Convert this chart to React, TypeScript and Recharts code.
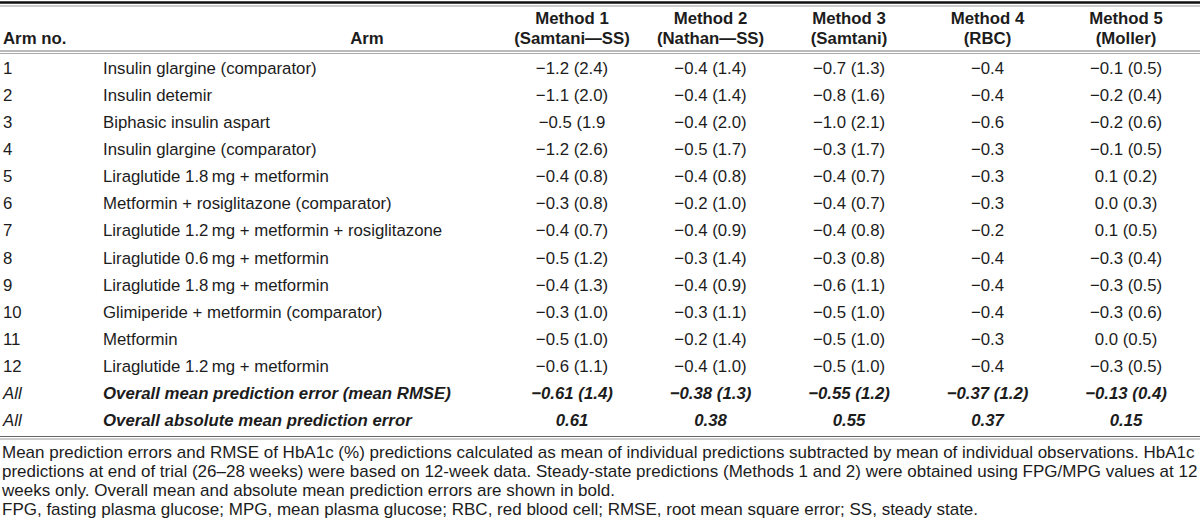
import { ScatterChart, Scatter, XAxis, YAxis, Customized } from 'recharts'

const armNos = ['1', '2', '3', '4', '5', '6', '7', '8', '9', '10', '11', '12', 'All', 'All']
const arms = [
  'Insulin glargine (comparator)',
  'Insulin detemir',
  'Biphasic insulin aspart',
  'Insulin glargine (comparator)',
  'Liraglutide 1.8\u2009mg + metformin',
  'Metformin + rosiglitazone (comparator)',
  'Liraglutide 1.2\u2009mg + metformin + rosiglitazone',
  'Liraglutide 0.6\u2009mg + metformin',
  'Liraglutide 1.8\u2009mg + metformin',
  'Glimiperide + metformin (comparator)',
  'Metformin',
  'Liraglutide 1.2\u2009mg + metformin',
  'Overall mean prediction error (mean RMSE)',
  'Overall absolute mean prediction error',
]
const methods = ['Method 1', 'Method 2', 'Method 3', 'Method 4', 'Method 5']
const methodSubs = ['(Samtani\u2014SS)', '(Nathan\u2014SS)', '(Samtani)', '(RBC)', '(Moller)']

const method1 = ['\u22121.2 (2.4)', '\u22121.1 (2.0)', '\u22120.5 (1.9', '\u22121.2 (2.6)', '\u22120.4 (0.8)', '\u22120.3 (0.8)', '\u22120.4 (0.7)', '\u22120.5 (1.2)', '\u22120.4 (1.3)', '\u22120.3 (1.0)', '\u22120.5 (1.0)', '\u22120.6 (1.1)', '\u22120.61 (1.4)', '0.61']
const method2 = ['\u22120.4 (1.4)', '\u22120.4 (1.4)', '\u22120.4 (2.0)', '\u22120.5 (1.7)', '\u22120.4 (0.8)', '\u22120.2 (1.0)', '\u22120.4 (0.9)', '\u22120.3 (1.4)', '\u22120.4 (0.9)', '\u22120.3 (1.1)', '\u22120.2 (1.4)', '\u22120.4 (1.0)', '\u22120.38 (1.3)', '0.38']
const method3 = ['\u22120.7 (1.3)', '\u22120.8 (1.6)', '\u22121.0 (2.1)', '\u22120.3 (1.7)', '\u22120.4 (0.7)', '\u22120.4 (0.7)', '\u22120.4 (0.8)', '\u22120.3 (0.8)', '\u22120.6 (1.1)', '\u22120.5 (1.0)', '\u22120.5 (1.0)', '\u22120.5 (1.0)', '\u22120.55 (1.2)', '0.55']
const method4 = ['\u22120.4', '\u22120.4', '\u22120.6', '\u22120.3', '\u22120.3', '\u22120.3', '\u22120.2', '\u22120.4', '\u22120.4', '\u22120.4', '\u22120.3', '\u22120.4', '\u22120.37 (1.2)', '0.37']
const method5 = ['\u22120.1 (0.5)', '\u22120.2 (0.4)', '\u22120.2 (0.6)', '\u22120.1 (0.5)', '0.1 (0.2)', '0.0 (0.3)', '0.1 (0.5)', '\u22120.3 (0.4)', '\u22120.3 (0.5)', '\u22120.3 (0.6)', '0.0 (0.5)', '\u22120.3 (0.5)', '\u22120.13 (0.4)', '0.15']

const footnoteLines = [
  'Mean prediction errors and RMSE of HbA1c (%) predictions calculated as mean of individual predictions subtracted by mean of individual observations. HbA1c',
  'predictions at end of trial (26\u201328 weeks) were based on 12-week data. Steady-state predictions (Methods 1 and 2) were obtained using FPG/MPG values at 12',
  'weeks only. Overall mean and absolute mean prediction errors are shown in bold.',
  'FPG, fasting plasma glucose; MPG, mean plasma glucose; RBC, red blood cell; RMSE, root mean square error; SS, steady state.',
]

const FONT = '"Liberation Sans", Arial, Helvetica, sans-serif'
const FS = 16.8
const TEXT = '#1c1c1c'
const SUMMARY_ROWS = 2

const columns = [method1, method2, method3, method4, method5]
const cells = columns.flatMap((col, ci) =>
  col.map((v, ri) => ({ col: ci + 1, row: ri + 1, text: v, summary: ri >= col.length - SUMMARY_ROWS }))
)

function CellText(props: any) {
  const { cx, cy, payload } = props
  return (
    <text
      x={cx}
      y={cy}
      dy={6}
      textAnchor="middle"
      fontFamily={FONT}
      fontSize={FS}
      fill={TEXT}
      fontWeight={payload.summary ? 'bold' : 'normal'}
      fontStyle={payload.summary ? 'italic' : 'normal'}
    >
      {payload.text}
    </text>
  )
}

function RowTick(props: any) {
  const { y, payload } = props
  const i = payload.value - 1
  const summary = i >= armNos.length - SUMMARY_ROWS
  return (
    <g>
      <text x={3} y={y} dy={6} fontFamily={FONT} fontSize={FS} fill={TEXT} fontStyle={summary ? 'italic' : 'normal'}>
        {armNos[i]}
      </text>
      <text
        x={103}
        y={y}
        dy={6}
        fontFamily={FONT}
        fontSize={FS}
        fill={TEXT}
        fontWeight={summary ? 'bold' : 'normal'}
        fontStyle={summary ? 'italic' : 'normal'}
      >
        {arms[i]}
      </text>
    </g>
  )
}

function HeaderTick(props: any) {
  const { x, payload } = props
  const i = payload.value - 1
  return (
    <g>
      <text x={x} y={24} textAnchor="middle" fontFamily={FONT} fontSize={FS} fontWeight="bold" fill={TEXT}>
        {methods[i]}
      </text>
      <text x={x} y={44} textAnchor="middle" fontFamily={FONT} fontSize={FS} fontWeight="bold" fill={TEXT}>
        {methodSubs[i]}
      </text>
    </g>
  )
}

function Rules() {
  return (
    <g>
      <line x1={0} x2={1200} y1={2.5} y2={2.5} stroke="#111" strokeWidth={2.5} />
      <line x1={0} x2={1200} y1={6} y2={6} stroke="#999" strokeWidth={1} />
      <text x={3} y={44} fontFamily={FONT} fontSize={FS} fontWeight="bold" fill={TEXT}>Arm no.</text>
      <text x={367} y={44} textAnchor="middle" fontFamily={FONT} fontSize={FS} fontWeight="bold" fill={TEXT}>Arm</text>
      <line x1={0} x2={1200} y1={51} y2={51} stroke="#777" strokeWidth={1} />
      <line x1={0} x2={1200} y1={53.5} y2={53.5} stroke="#aaa" strokeWidth={1} />
      <line x1={0} x2={1200} y1={436.5} y2={436.5} stroke="#666" strokeWidth={1.2} />
      <line x1={0} x2={1200} y1={439} y2={439} stroke="#999" strokeWidth={1} />
    </g>
  )
}

export default function App() {
  return (
    <div style={{ width: 1200, height: 531, background: '#fff', position: 'relative', overflow: 'hidden' }}>
      <style>{`body{margin:0}`}</style>
      <ScatterChart width={1200} height={441} margin={{ top: 4.46, right: 0, bottom: 7.5, left: 0 }}>
        <XAxis
          type="number"
          dataKey="col"
          orientation="top"
          domain={[0.2635, 5.534]}
          ticks={[1, 2, 3, 4, 5]}
          tick={<HeaderTick />}
          axisLine={false}
          tickLine={false}
          height={50}
          interval={0}
        />
        <YAxis
          type="number"
          dataKey="row"
          reversed
          domain={[0.5, 14.5]}
          ticks={armNos.map((_, i) => i + 1)}
          tick={<RowTick />}
          axisLine={false}
          tickLine={false}
          width={470}
          interval={0}
        />
        <Scatter data={cells} shape={<CellText />} isAnimationActive={false} />
        <Customized component={<Rules />} />
      </ScatterChart>
      <div
        style={{
          position: 'absolute',
          left: 2,
          top: 442.5,
          fontFamily: FONT,
          fontSize: 17,
          lineHeight: '19px',
          color: TEXT,
          whiteSpace: 'nowrap',
        }}
      >
        {footnoteLines.map((f, i) => (
          <div key={i}>{f}</div>
        ))}
      </div>
    </div>
  )
}
